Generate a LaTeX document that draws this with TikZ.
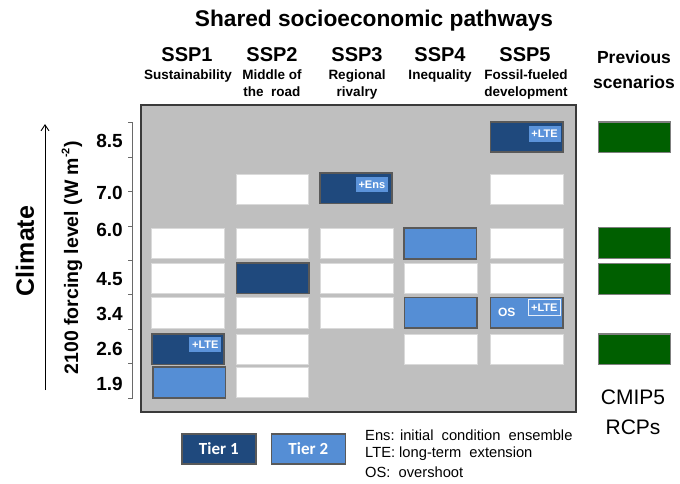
\documentclass[tikz,border=0pt]{standalone}
\usepackage{fontspec}
\setmainfont{Liberation Sans}
\newfontfamily\carlitofont{Carlito}
\usetikzlibrary{calc,arrows.meta}
\newcommand\fsz[1]{\fontsize{#1}{#1}\selectfont}
\definecolor{panelfill}{HTML}{BFBFBF}
\definecolor{panelborder}{HTML}{3A3A3A}
\definecolor{tieronecol}{HTML}{1F497D}
\definecolor{tiertwocol}{HTML}{558ED5}
\definecolor{badgecol}{HTML}{5B93DA}
\definecolor{edgegray}{HTML}{595959}
\definecolor{boxgray}{HTML}{DADADA}
\definecolor{rcpgreen}{HTML}{005F00}
\definecolor{greenedge}{HTML}{7F7F7F}
\definecolor{axisgray}{HTML}{6A6A6A}
\begin{document}
\begin{tikzpicture}[x=1pt,y=-1pt,
  cell/.style={rectangle, minimum width=72.5pt, minimum height=30.5pt, inner sep=0pt},
  empty/.style={cell, fill=white, draw=boxgray, line width=0.6pt},
  tierA/.style={cell, fill=tieronecol, draw=edgegray, line width=1.6pt},
  tierB/.style={cell, fill=tiertwocol, draw=edgegray, line width=1.6pt},
  rcp/.style={cell, fill=rcpgreen, draw=greenedge, line width=1.2pt},
  badge/.style={rectangle, fill=badgecol, text=white, font=\bfseries\fsz{11}, inner sep=0pt, minimum width=32pt, minimum height=15.5pt, anchor=north east},
  sspname/.style={font=\bfseries\fsz{20}},
  sspsub/.style={font=\bfseries\fontsize{13.5}{17}\selectfont, align=center, anchor=north, inner sep=0pt},
  ticklab/.style={font=\bfseries\fsz{19}, anchor=east, inner sep=0pt},
  legbox/.style={rectangle, minimum width=74pt, minimum height=30pt, inner sep=0pt, draw=edgegray, line width=1.6pt, text=white, font=\carlitofont\bfseries\fsz{17}},
  legtext/.style={font=\fsz{14.7}, anchor=west, inner sep=0pt}
]
\useasboundingbox (0,0) rectangle (680,483);

% title and column headers
\node[font=\bfseries\fsz{22.7}] (title) at (374,21) {Shared socioeconomic pathways};
\node[sspname] (h1) at (187,55) {SSP1};
\node[sspname] (h2) at (272,55) {SSP2};
\node[sspname] (h3) at (357,55) {SSP3};
\node[sspname] (h4) at (440,55) {SSP4};
\node[sspname] (h5) at (525,55) {SSP5};
\node[sspsub] (s1) at (188,70) {Sustainability};
\node[sspsub] (s2) at (272,70) {Middle of\\the\ \ road};
\node[sspsub] (s3) at (357,70) {Regional\\rivalry};
\node[sspsub] (s4) at (440,70) {Inequality};
\node[sspsub] (s5) at (526,70) {Fossil-fueled\\development};
\node[font=\bfseries\fontsize{17.5}{25}\selectfont, align=center] (prev) at (634,69.5) {Previous\\scenarios};

% panel
\node[draw=panelborder, line width=1.8pt, fill=panelfill, minimum width=435pt, minimum height=307pt, inner sep=0pt, anchor=north west] (panel) at (140,104) {};

% SSP1
\node[empty] (a60) at (188,243.5) {};
\node[empty] (a45) at (188,278.5) {};
\node[empty] (a34) at (188,312.9) {};
\node[tierA] (a26) at (188,349.2) {};
\node[tierB] (a19) at (189.2,382.5) {};
% SSP2
\node[empty] (b70) at (272.4,189.5) {};
\node[empty] (b60) at (272.4,243.5) {};
\node[tierA] (b45) at (272.6,278.2) {};
\node[empty] (b34) at (272.4,312.9) {};
\node[empty] (b26) at (272.4,349.2) {};
\node[empty] (b19) at (272.4,382.5) {};
% SSP3
\node[tierA] (c70) at (356,188.2) {};
\node[empty] (c60) at (356.7,243.5) {};
\node[empty] (c45) at (356.7,278.5) {};
\node[empty] (c34) at (356.7,312.9) {};
% SSP4
\node[tierB] (d60) at (440.3,243.5) {};
\node[empty] (d45) at (440.8,278.5) {};
\node[tierB] (d34) at (440.8,312.9) {};
\node[empty] (d26) at (440.8,349.2) {};
% SSP5
\node[tierA] (e85) at (526.7,137) {};
\node[empty] (e70) at (526.7,189.5) {};
\node[empty] (e60) at (526.7,243.5) {};
\node[empty] (e45) at (526.7,278.5) {};
\node[tierB] (e34) at (526.7,312.9) {};
\node[empty] (e26) at (526.7,349.2) {};

% badges
\node[badge] (bg1) at ($(e85.north east)+(-3,5)$) {+LTE};
\node[badge] (bg2) at ($(c70.north east)+(-5,4.5)$) {+Ens};
\node[badge] (bg3) at ($(a26.north east)+(-3.5,3.5)$) {+LTE};
\node[badge, draw=white!85!tiertwocol, line width=0.9pt, minimum height=16pt] (bg4) at ($(e34.north east)+(-3,2)$) {+LTE};
\node[text=white, font=\bfseries\fsz{12}] (os) at (506.7,312.5) {OS};

% previous scenarios
\node[rcp] (g85) at (634.5,137.3) {};
\node[rcp] (g60) at (634.5,243) {};
\node[rcp] (g45) at (634.5,279) {};
\node[rcp] (g26) at (634.5,349.3) {};
\node[font=\fsz{21}] (cmip) at (633,397) {CMIP5};
\node[font=\fsz{21}] (rcps) at (633,427) {RCPs};

% axis bracket
\coordinate (axtop) at (132.7,122.7);
\coordinate (axbot) at (132.7,398.3);
\draw[axisgray, line width=1pt] (axtop) -- (axbot);
\foreach \i in {0,...,8} {
  \draw[axisgray, line width=1pt] (128,{122.7+34.45*\i}) -- (132.7,{122.7+34.45*\i});
}
\node[ticklab] (t85) at (123,140.7) {8.5};
\node[ticklab] (t70) at (123,192.7) {7.0};
\node[ticklab] (t60) at (123,230) {6.0};
\node[ticklab] (t45) at (123,279.3) {4.5};
\node[ticklab] (t34) at (123,314) {3.4};
\node[ticklab] (t26) at (123,349) {2.6};
\node[ticklab] (t19) at (123,384.3) {1.9};

\node[font=\bfseries\fsz{19.5}, rotate=90] (flab) at (72,258) {2100 forcing level (W m\raisebox{0.45em}{\fsz{11}-2})};

% climate arrow
\coordinate (clbot) at (45,390);
\coordinate (cltop) at (45,124);
\draw[line width=0.9pt, -{Straight Barb[length=6pt,width=8pt]}] (clbot) -- (cltop);
\node[font=\bfseries\fsz{25}, rotate=90] (climate) at (25,251) {Climate};

% legend
\node[legbox, fill=tieronecol] (leg1) at (218.8,449) {Tier 1};
\node[legbox, fill=tiertwocol] (leg2) at (308.3,449) {Tier 2};
\node[legtext] (l1) at (365,435) {Ens: initial\ \ condition\ \ ensemble};
\node[legtext] (l2) at (365,453.3) {LTE: long-term\ \ extension};
\node[legtext] (l3) at (365,472.7) {OS:\ \ overshoot};
\end{tikzpicture}
\end{document}
